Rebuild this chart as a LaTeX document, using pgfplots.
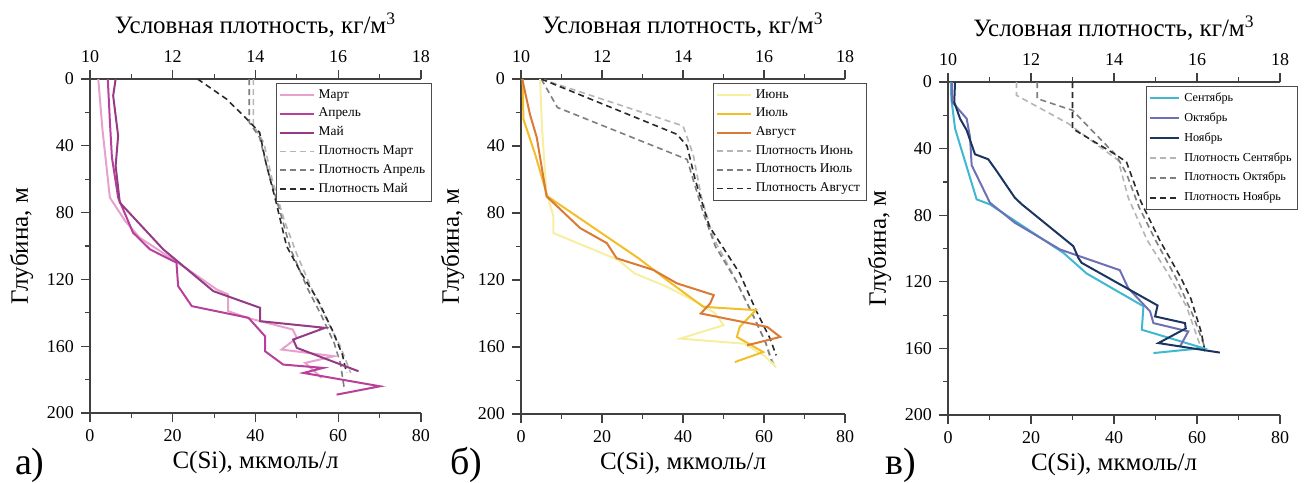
\documentclass[border=0pt]{standalone}
\usepackage{fontspec}
\setmainfont{Liberation Serif}
\usepackage{pgfplots}
\pgfplotsset{compat=1.18}
\definecolor{cMar}{HTML}{E7A1CC}
\definecolor{cApr}{HTML}{B8409A}
\definecolor{cMay}{HTML}{953A85}
\definecolor{cJun}{HTML}{F7EFA0}
\definecolor{cJul}{HTML}{F2BE2A}
\definecolor{cAug}{HTML}{DA7A35}
\definecolor{cSep}{HTML}{3FB8D0}
\definecolor{cOct}{HTML}{6D70B5}
\definecolor{cNov}{HTML}{1C3560}
\definecolor{dL}{HTML}{B5B5B5}
\definecolor{dM}{HTML}{7E7E7E}
\definecolor{dD}{HTML}{2A2A2A}
\pgfplotsset{
  base/.style={scale only axis, ymin=0, ymax=200, y dir=reverse, tick align=outside,
    major tick length=4.5pt, minor tick length=2.5pt,
    axis line style={line width=0.7pt, color=black!75},
    every tick/.style={line width=0.6pt, black!75},
    tick label style={font=\fontsize{9}{10}\selectfont},
    /pgf/number format/assume math mode=true,
    label style={font=\fontsize{12.5}{14}\selectfont}},
  caxis/.style={base, xmin=0, xmax=80, xtick={0,20,...,80}, minor x tick num=1,
    ytick={0,40,...,200}, minor y tick num=1, axis x line*=bottom, axis y line*=left,
    xlabel={C(Si), мкмоль/л}, ylabel={Глубина, м},
    xlabel style={yshift=2pt},
    legend cell align=left,
    legend style={anchor=north west, font=\fontsize{6.7}{7}\selectfont, draw=black!70,
      line width=0.5pt, inner sep=1pt, row sep=-0.6pt, fill=white},
    every axis plot/.append style={line width=1pt}},
  daxis/.style={base, xmin=10, xmax=18, xtick={10,12,...,18}, minor x tick num=1,
    axis x line*=top, axis y line=none,
    xlabel={Условная плотность, кг/м\textsuperscript{3}},
    every axis plot/.append style={line width=0.8pt, dash pattern=on 3pt off 2pt}},
}
\begin{document}
\begin{tikzpicture}
\path[use as bounding box] (0,0) rectangle (652pt,241pt);
% ---------- panel a ----------
\begin{axis}[daxis, at={(45pt,34.5pt)}, anchor=south west, width=165.5pt, height=167pt]
\addplot[dL] coordinates {(13.95,0)(13.95,28)(14.2,38)(14.4,60)(14.7,85)(15.0,105)(15.4,128)(15.8,148)(16.05,160)(16.3,176)};
\addplot[dM] coordinates {(13.85,0)(13.85,26)(14.1,35)(14.3,55)(14.6,80)(14.85,102)(15.25,125)(15.6,142)(15.9,158)(16.05,170)(16.15,186)};
\addplot[dD] coordinates {(12.6,0)(13.3,12)(13.75,23)(14.1,32)(14.25,50)(14.5,74)(14.75,100)(15.1,116)(15.5,132)(15.85,150)(16.1,165)(16.2,176)};
\end{axis}
\begin{axis}[caxis, at={(45pt,34.5pt)}, anchor=south west, width=165.5pt, height=167pt,
  legend style={at={(0.562,0.988)}}]
\addplot[cMar] coordinates {(2.0,0)(3.0,30)(4.8,71)(8.5,85)(12,95)(20,108)(26,118)(30.6,126)(33.4,129)(33.4,139)(38,143)(49,150)(50,155)(46.3,162)(59,166)(52,170)(56,179)};
\addplot[cApr] coordinates {(4.3,0)(4.8,25)(5.3,47)(6.8,71)(10.4,92)(14.5,102)(20.9,110)(21.3,124)(24.6,136)(38.3,143)(42.3,154)(42.3,163)(46.7,171)(56.4,173)(51.6,176)(70.1,184)(59.6,189)};
\addplot[cMay] coordinates {(6.2,0)(5.6,10)(6.8,34)(6.2,52)(7.2,74)(17.7,102)(29.8,127)(41.1,137)(41.1,145)(56.8,149)(49.1,156)(50,161)(64.9,175)};
\addlegendimage{dL, line width=0.8pt, dash pattern=on 3pt off 2pt}
\addlegendimage{dM, line width=0.8pt, dash pattern=on 3pt off 2pt}
\addlegendimage{dD, line width=0.8pt, dash pattern=on 3pt off 2pt}
\legend{Март,Апрель,Май,Плотность Март,Плотность Апрель,Плотность Май}
\end{axis}
% ---------- panel b ----------
\begin{axis}[daxis, at={(260.5pt,34pt)}, anchor=south west, width=162pt, height=167.5pt]
\addplot[dL] coordinates {(10.5,0)(14.0,28)(14.25,45)(14.45,70)(14.75,95)(15.2,115)(15.7,140)(16.0,155)(16.25,171)};
\addplot[dM] coordinates {(10.5,0)(10.9,17)(14.1,48)(14.25,60)(14.5,80)(14.8,100)(15.3,120)(15.75,142)(16.05,158)(16.2,170)};
\addplot[dD] coordinates {(10.5,0)(13.85,33)(14.1,40)(14.3,60)(14.65,88)(15.4,116)(15.8,138)(16.15,155)(16.3,165)};
\end{axis}
\begin{axis}[caxis, at={(260.5pt,34pt)}, anchor=south west, width=162pt, height=167.5pt,
  legend style={at={(0.593,0.988)}}]
\addplot[cJun] coordinates {(4.7,0)(5.2,30)(6.3,68)(8,82)(8,92)(16,100)(24,108)(28,116)(36,124)(44,134)(48,140)(50,147)(39.3,155)(55,158)(60,165)(63,172)};
\addplot[cJul] coordinates {(0.4,0)(0.6,24)(3.5,45)(6.5,70)(29,107)(36,120)(45,136)(58,138)(54,148)(53.3,154)(59.8,163)(52.8,169)};
\addplot[cAug] coordinates {(0.3,0)(2.2,21)(3.9,35)(6.3,70)(14.6,89)(21.2,98)(23.6,107)(32.7,114)(38.5,122)(47.6,129)(46.7,134)(44.4,140)(60.8,148)(64,154)(55.8,159)};
\addlegendimage{dL, line width=0.8pt, dash pattern=on 3pt off 2pt}
\addlegendimage{dM, line width=0.8pt, dash pattern=on 3pt off 2pt}
\addlegendimage{dD, line width=0.8pt, dash pattern=on 3pt off 2pt}
\legend{Июнь,Июль,Август,Плотность Июнь,Плотность Июль,Плотность Август}
\end{axis}
% ---------- panel c ----------
\begin{axis}[daxis, at={(474pt,33.5pt)}, anchor=south west, width=166pt, height=166.5pt]
\addplot[dL] coordinates {(11.65,0)(11.65,8)(12.9,25)(14.1,47)(14.35,70)(14.8,95)(15.3,115)(15.75,135)(16.1,160)};
\addplot[dM] coordinates {(12.15,0)(12.15,10)(13.0,17)(14.05,44)(14.3,55)(14.6,75)(15.0,95)(15.5,118)(15.9,140)(16.2,160)};
\addplot[dD] coordinates {(13.0,0)(13.0,28)(14.0,43)(14.3,48)(14.65,72)(15.1,95)(15.6,117)(15.85,130)(16.1,150)(16.2,163)};
\end{axis}
\begin{axis}[caxis, at={(474pt,33.5pt)}, anchor=south west, width=166pt, height=166.5pt,
  legend style={at={(0.597,0.988)}, font=\fontsize{6.1}{7}\selectfont, row sep=0.1pt},
  legend image code/.code={\draw[#1] (0cm,0cm) -- (0.52cm,0cm);}]
\addplot[cSep] coordinates {(0.7,0)(0.8,10)(1.7,28)(6.9,70.5)(10.1,73.5)(27.8,102.6)(33.4,115)(47.1,134.7)(46.7,148.8)(61.5,159.8)(49.5,162.8)};
\addplot[cOct] coordinates {(0.9,0)(1.0,12)(4.5,22)(5.3,33)(5.7,50)(10.1,72.5)(16.1,84.5)(27,100.6)(41.4,113)(43.4,123.7)(48.7,137.8)(49.5,144.8)(57.9,149.8)(55.9,158.9)};
\addplot[cNov] coordinates {(1.7,0)(1.5,12)(2.9,22)(4.5,29)(6.5,43.4)(9.7,46.4)(11.7,53.4)(16.1,69.5)(17.8,73.5)(30.2,98.6)(31.4,105.6)(32.2,108.6)(50.5,134.2)(49.9,140.8)(57.1,144.8)(57.3,148)(50.7,156.8)(65.5,162.5)};
\addlegendimage{dL, line width=0.8pt, dash pattern=on 3pt off 2pt}
\addlegendimage{dM, line width=0.8pt, dash pattern=on 3pt off 2pt}
\addlegendimage{dD, line width=0.8pt, dash pattern=on 3pt off 2pt}
\legend{Сентябрь,Октябрь,Ноябрь,Плотность Сентябрь,Плотность Октябрь,Плотность Ноябрь}
\end{axis}
% panel letters
\node[font=\fontsize{19}{20}\selectfont, anchor=base west] at (4pt,4pt) {а)};
\node[font=\fontsize{19}{20}\selectfont, anchor=base west] at (221.5pt,4pt) {б)};
\node[font=\fontsize{19}{20}\selectfont, anchor=base west] at (439pt,4pt) {в)};
\end{tikzpicture}
\end{document}
